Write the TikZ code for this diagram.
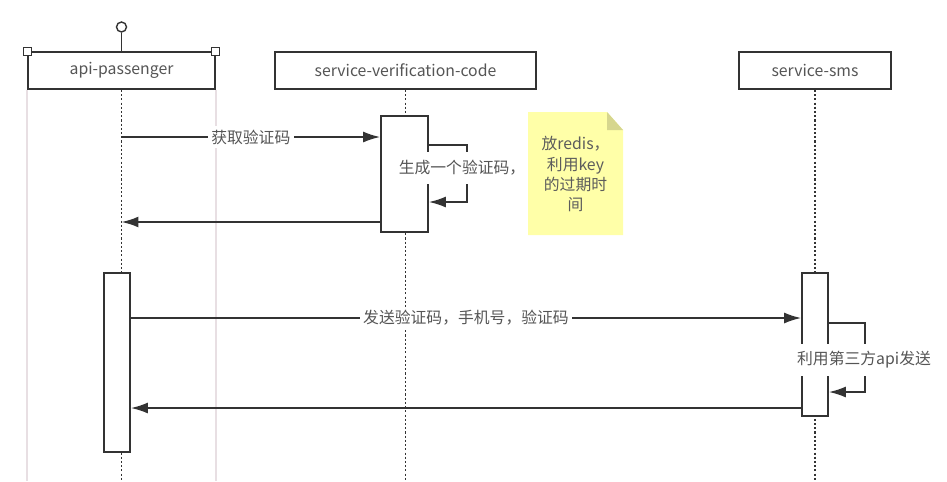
\documentclass[tikz,border=0pt]{standalone}
\usepackage{fontspec}
\newfontfamily\cjk{Noto Sans CJK SC}
\usetikzlibrary{arrows.meta}
\definecolor{linegray}{HTML}{333333}
\definecolor{textgray}{HTML}{555555}
\definecolor{guidegray}{HTML}{E8DFE3}
\definecolor{noteyellow}{HTML}{FFFFA8}
\definecolor{notefold}{HTML}{D6D68E}
\begin{document}
\begin{tikzpicture}[x=0.02cm, y=-0.02cm,
    every node/.style={font=\cjk\fontsize{9}{11.4}\selectfont, text=textgray},
    actor/.style={draw=linegray, line width=1pt, fill=white, minimum height=0.74cm, inner sep=0pt},
    activation/.style={draw=linegray, line width=1pt, fill=white, inner sep=0pt},
    lifeline/.style={linegray, line width=1pt, dash pattern=on 1.2pt off 1.2pt},
    guide/.style={guidegray, line width=0.8pt},
    msg/.style={linegray, line width=1pt, -{Latex[length=0.34cm, width=0.22cm]}},
    lbl/.style={fill=white, inner xsep=2pt, inner ysep=2pt}]
    \useasboundingbox (0,0) rectangle (947,481);
    \fill[white] (0,0) rectangle (947,481);
    \node[actor, minimum width=3.74cm] (passenger) at (121.5,70.5) {api-passenger};
    \node[actor, minimum width=5.22cm] (verify) at (405.5,70.5) {service-verification-code};
    \node[actor, minimum width=3.04cm] (sms) at (815,70.5) {service-sms};
    \draw[guide] (passenger.south west) -- (passenger.south west |- 0,481);
    \draw[guide] (passenger.south east) -- (passenger.south east |- 0,481);
    \node[draw=linegray, line width=0.8pt, fill=white, circle, minimum size=0.2cm, inner sep=0pt] (head) at (121.5,27) {};
    \draw[linegray, line width=0.8pt] (head) -- (passenger.north);
    \node[draw=linegray, line width=0.6pt, fill=white, minimum size=0.16cm, inner sep=0pt] (cornerl) at (passenger.north west) {};
    \node[draw=linegray, line width=0.6pt, fill=white, minimum size=0.16cm, inner sep=0pt] (cornerr) at (passenger.north east) {};
    \draw[lifeline] (passenger.south) -- (passenger.south |- 0,481);
    \draw[lifeline] (verify.south) -- (verify.south |- 0,481);
    \draw[lifeline] (sms.south) -- (sms.south |- 0,481);
    \node[activation, minimum width=0.94cm, minimum height=2.32cm] (act1) at (404.5,174) {};
    \node[activation, minimum width=0.52cm, minimum height=3.58cm] (act2) at (117,362.5) {};
    \node[activation, minimum width=0.52cm, minimum height=2.86cm] (act3) at (815,344.5) {};
    \coordinate (m1s) at (passenger.south |- 0,137);
    \draw[msg] (m1s) -- (act1.west |- m1s) node[lbl, midway] {获取验证码};
    \coordinate (loop1) at (467,145);
    \draw[msg] (act1.east |- loop1) -- (loop1) -- (467,202) -- (act1.east |- 0,202);
    \node[lbl, inner ysep=5pt] (gen) at (462,168) {生成一个验证码，};
    \coordinate (r1e) at (passenger.south |- 0,222);
    \draw[msg] (act1.west |- r1e) -- (r1e);
    \fill[noteyellow] (528,112) -- (607,112) -- (623,130) -- (623,235) -- (528,235) -- cycle;
    \fill[notefold] (607,112) -- (623,130) -- (607,130) -- cycle;
    \node[align=center, text=linegray!80] (note) at (575.5,174) {放redis，\\利用key\\的过期时\\间};
    \coordinate (m2s) at (act2.east |- 0,318);
    \draw[msg] (m2s) -- (act3.west |- m2s) node[lbl, midway] {发送验证码，手机号，验证码};
    \coordinate (loop2) at (865,323);
    \draw[msg] (act3.east |- loop2) -- (loop2) -- (865,392) -- (act3.east |- 0,392);
    \node[lbl, inner ysep=4pt] (third) at (864,360) {利用第三方api发送};
    \coordinate (r2s) at (act3.west |- 0,408);
    \draw[msg] (r2s) -- (act2.east |- r2s);
\end{tikzpicture}
\end{document}
